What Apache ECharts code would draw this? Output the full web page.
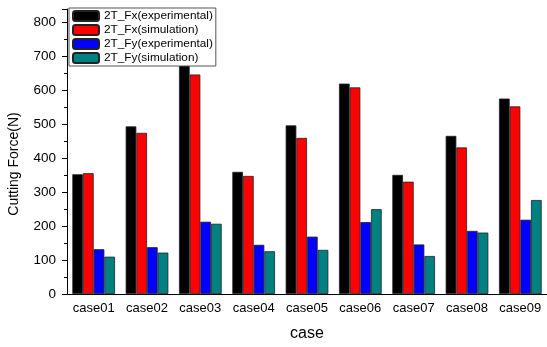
<!DOCTYPE html>
<html><head><meta charset="utf-8">
<script src="https://cdn.jsdelivr.net/npm/echarts@6/dist/echarts.min.js"></script>
<style>html,body{margin:0;padding:0;background:#fff}#c{width:547px;height:347px}</style>
</head><body><div id="c"></div>
<script>
var categories = ['case01','case02','case03','case04','case05','case06','case07','case08','case09'];
var fxExp = [353, 494, 699, 360, 497, 620, 351, 466, 576];
var fxSim = [356, 475, 647, 348, 460, 609, 331, 432, 553];
var fyExp = [132, 138, 213, 145, 169, 212, 146, 186, 219];
var fySim = [110, 122, 207, 126, 130, 250, 112, 181, 277];
var seriesNames = ['2T_Fx(experimental)','2T_Fx(simulation)','2T_Fy(experimental)','2T_Fy(simulation)'];
var yTicks = [0,100,200,300,400,500,600,700,800];

var FONT = '"Liberation Sans", Arial, sans-serif';
var colors = ['#000000','#ff0000','#0000ff','#008080'];
var data = [fxExp, fxSim, fyExp, fySim];
var chart = echarts.init(document.getElementById('c'), null, {renderer:'canvas'});
chart.setOption({
  animation:false,
  color: colors,
  textStyle:{fontFamily:FONT},
  grid:{left:67, right:-2, top:9, bottom:46},
  legend:{
    orient:'vertical', left:69, top:8,
    backgroundColor:'#fff', borderColor:'#555', borderWidth:1,
    padding:[2,3,2,3], itemGap:2, itemWidth:26, itemHeight:10,
    textStyle:{fontSize:11.8, color:'#000', fontFamily:FONT},
    data: seriesNames
  },
  xAxis:[{
    type:'category', data:categories, gridIndex:0, position:'bottom', offset:0,
    axisLine:{lineStyle:{color:'#000', width:1}},
    axisTick:{alignWithLabel:true, length:5, lineStyle:{color:'#000'}},
    axisLabel:{color:'#000', fontSize:13, margin:8, interval:0, hideOverlap:false, fontFamily:FONT},
    name:'case', nameLocation:'middle', nameGap:32,
    nameTextStyle:{fontSize:16, color:'#000', fontFamily:FONT}
  },{
    type:'category', data:categories, gridIndex:0, position:'bottom', offset:0,
    axisLine:{show:false},
    axisTick:{alignWithLabel:false, interval:0, length:3, lineStyle:{color:'#000'}},
    axisLabel:{show:false}
  }],
  yAxis:{
    type:'value', min:0, max:840, interval:100,
    axisLine:{show:true, lineStyle:{color:'#000', width:1}},
    axisTick:{show:true, length:5, lineStyle:{color:'#000'}},
    minorTick:{show:true, splitNumber:2, length:3, lineStyle:{color:'#000'}},
    splitLine:{show:false},
    axisLabel:{color:'#000', fontSize:13.5, margin:11, showMaxLabel:false, fontFamily:FONT,
      formatter:function(v){return yTicks.indexOf(v)>=0 ? String(v) : '';}}
  },
  graphic:[{
    type:'text', x:14, y:164, rotation:Math.PI/2,
    style:{text:'Cutting Force(N)', fill:'#000', font:'14px '+FONT, textAlign:'center', textVerticalAlign:'middle'}
  }],
  series: data.map(function(d,i){
    return {
      type:'bar', name:seriesNames[i], data:d, xAxisIndex:0,
      barGap:'0%', barCategoryGap:'20%',
      itemStyle:{color:colors[i], borderColor:'#222', borderWidth:0.8}
    };
  })
});
</script></body></html>
